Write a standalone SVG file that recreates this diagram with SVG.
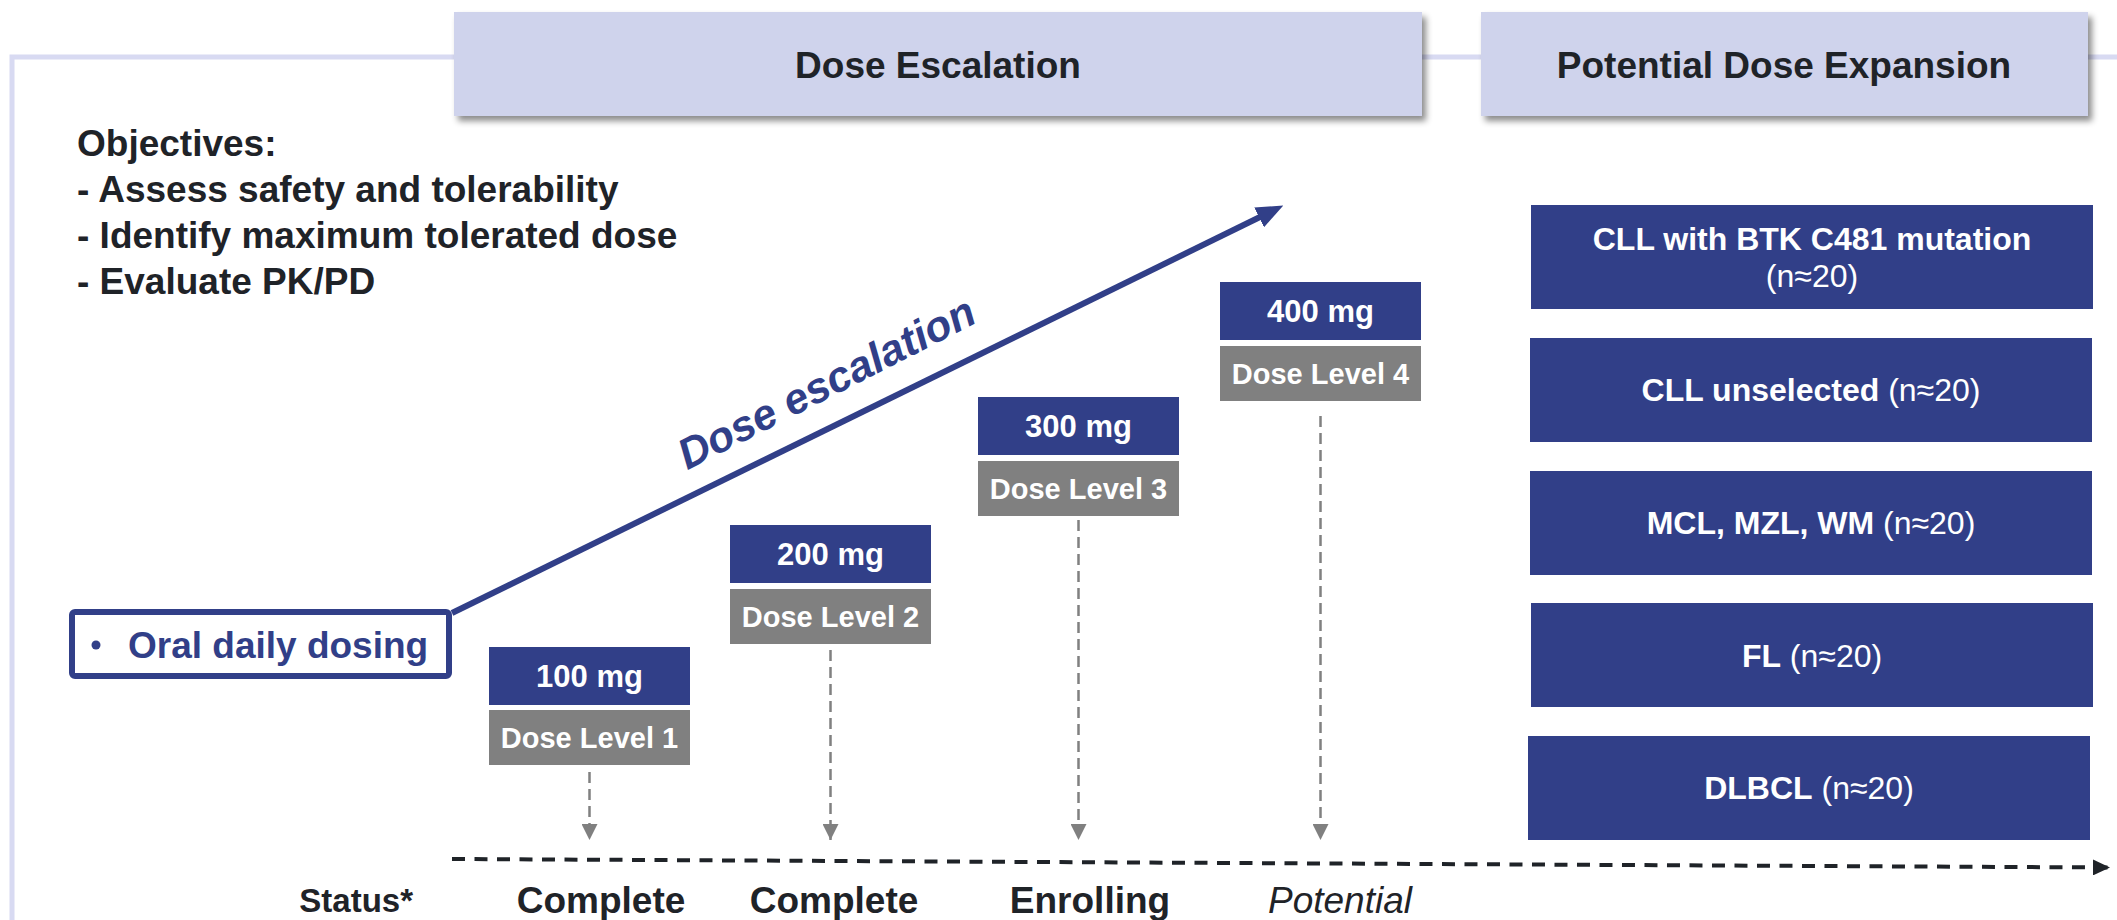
<svg xmlns="http://www.w3.org/2000/svg" width="2117" height="920" viewBox="0 0 2117 920">
<defs>
<filter id="sh" x="-5%" y="-20%" width="115%" height="160%">
<feDropShadow dx="4" dy="5" stdDeviation="3" flood-color="#000" flood-opacity="0.45"/>
</filter>
<marker id="ga" markerUnits="userSpaceOnUse" markerWidth="16" markerHeight="16" refX="16" refY="8" orient="auto" viewBox="0 0 16 16"><path d="M0,0 L16,8 L0,16 Z" fill="#808080"/></marker>
<marker id="ka" markerUnits="userSpaceOnUse" markerWidth="17" markerHeight="16" refX="17" refY="8" orient="auto" viewBox="0 0 17 16"><path d="M0,0 L17,8 L0,16 Z" fill="#1f2328"/></marker>
<marker id="na" markerUnits="userSpaceOnUse" markerWidth="27" markerHeight="22" refX="1" refY="11" orient="auto" viewBox="0 0 27 22"><path d="M0,0 L27,11 L0,22 Z" fill="#313f88"/></marker>
</defs>
<style>
text{font-family:"Liberation Sans",Arial,sans-serif}
.b{font-weight:bold}
.hdr{fill:#cfd3ec}
.ht{font-size:37px;font-weight:bold;fill:#1f2328;text-anchor:middle}
.obj{font-size:37px;font-weight:bold;fill:#1f2328}
.nv{fill:#313f88}
.gy{fill:#808080}
.mg{font-size:31px;font-weight:bold;fill:#fff;text-anchor:middle}
.dl{font-size:29px;font-weight:bold;fill:#fff;text-anchor:middle}
.ex{font-size:32px;fill:#fff;text-anchor:middle}
.st{font-size:37px;fill:#1f2328;text-anchor:middle}
.vd{stroke:#808080;stroke-width:2.5;stroke-dasharray:11 6;fill:none}
</style>

<g id="frame">
<path d="M12,920 L12,57 L2117,57" fill="none" stroke="#d8daf2" stroke-width="5"/>
</g>

<g id="header-escalation">
<rect class="hdr" x="454" y="12" width="968" height="104" filter="url(#sh)"/>
<text class="ht" x="938" y="78">Dose Escalation</text>
</g>
<g id="header-expansion">
<rect class="hdr" x="1481" y="12" width="607" height="104" filter="url(#sh)"/>
<text class="ht" x="1784" y="78">Potential Dose Expansion</text>
</g>

<g id="objectives">
<text class="obj" x="77" y="156">Objectives:</text>
<text class="obj" x="77" y="202">- Assess safety and tolerability</text>
<text class="obj" x="77" y="248">- Identify maximum tolerated dose</text>
<text class="obj" x="77" y="294">- Evaluate PK/PD</text>
</g>

<g id="oral-dosing">
<rect x="72" y="612" width="377" height="64" rx="3" fill="#fff" stroke="#313f88" stroke-width="6"/>
<circle cx="96" cy="645" r="4.5" class="nv"/>
<text x="128" y="658" class="b" style="font-size:37px;fill:#313f88">Oral daily dosing</text>
</g>

<g id="escalation-label">
<text x="833" y="396" transform="rotate(-27 833 396)" style="font-size:43px;font-weight:bold;font-style:italic;fill:#313f88;text-anchor:middle">Dose escalation</text>
</g>

<g id="dose1">
<rect class="nv" x="489" y="647" width="201" height="58"/>
<text class="mg" x="589.5" y="687">100 mg</text>
<rect class="gy" x="489" y="710" width="201" height="55"/>
<text class="dl" x="589.5" y="748">Dose Level 1</text>
</g>
<g id="dose2">
<rect class="nv" x="730" y="525" width="201" height="58"/>
<text class="mg" x="830.5" y="565">200 mg</text>
<rect class="gy" x="730" y="589" width="201" height="55"/>
<text class="dl" x="830.5" y="627">Dose Level 2</text>
</g>
<g id="dose3">
<rect class="nv" x="978" y="397" width="201" height="58"/>
<text class="mg" x="1078.5" y="437">300 mg</text>
<rect class="gy" x="978" y="461" width="201" height="55"/>
<text class="dl" x="1078.5" y="499">Dose Level 3</text>
</g>
<g id="dose4">
<rect class="nv" x="1220" y="282" width="201" height="58"/>
<text class="mg" x="1320.5" y="322">400 mg</text>
<rect class="gy" x="1220" y="346" width="201" height="55"/>
<text class="dl" x="1320.5" y="384">Dose Level 4</text>
</g>

<g id="exp1">
<rect class="nv" x="1531" y="205" width="562" height="104"/>
<text class="ex b" x="1812" y="250">CLL with BTK C481 mutation</text>
<text class="ex" x="1812" y="287">(n≈20)</text>
</g>
<g id="exp2">
<rect class="nv" x="1530" y="338" width="562" height="104"/>
<text class="ex" x="1811" y="401"><tspan class="b">CLL unselected</tspan> (n≈20)</text>
</g>
<g id="exp3">
<rect class="nv" x="1530" y="471" width="562" height="104"/>
<text class="ex" x="1811" y="534"><tspan class="b">MCL, MZL, WM</tspan> (n≈20)</text>
</g>
<g id="exp4">
<rect class="nv" x="1531" y="603" width="562" height="104"/>
<text class="ex" x="1812" y="667"><tspan class="b">FL</tspan> (n≈20)</text>
</g>
<g id="exp5">
<rect class="nv" x="1528" y="736" width="562" height="104"/>
<text class="ex" x="1809" y="799"><tspan class="b">DLBCL</tspan> (n≈20)</text>
</g>

<g id="status">
<text x="413" y="912" class="b" style="font-size:33px;fill:#1f2328;text-anchor:end">Status*</text>
<text class="st b" x="601" y="913">Complete</text>
<text class="st b" x="834" y="913">Complete</text>
<text class="st b" x="1090" y="913">Enrolling</text>
<text class="st" x="1340" y="913" style="font-style:italic">Potential</text>
</g>

<g id="connectors">
<line x1="452" y1="613" x2="1260" y2="217" stroke="#313f88" stroke-width="6" marker-end="url(#na)"/>
<line class="vd" x1="589.5" y1="772" x2="589.5" y2="840" marker-end="url(#ga)"/>
<line class="vd" x1="830.5" y1="650" x2="830.5" y2="840" marker-end="url(#ga)"/>
<line class="vd" x1="1078.5" y1="520" x2="1078.5" y2="840" marker-end="url(#ga)"/>
<line class="vd" x1="1320.5" y1="416" x2="1320.5" y2="840" marker-end="url(#ga)"/>
<line x1="452" y1="859" x2="2110" y2="867.5" stroke="#1f2328" stroke-width="4" stroke-dasharray="13 9.5" marker-end="url(#ka)"/>
</g>
</svg>
